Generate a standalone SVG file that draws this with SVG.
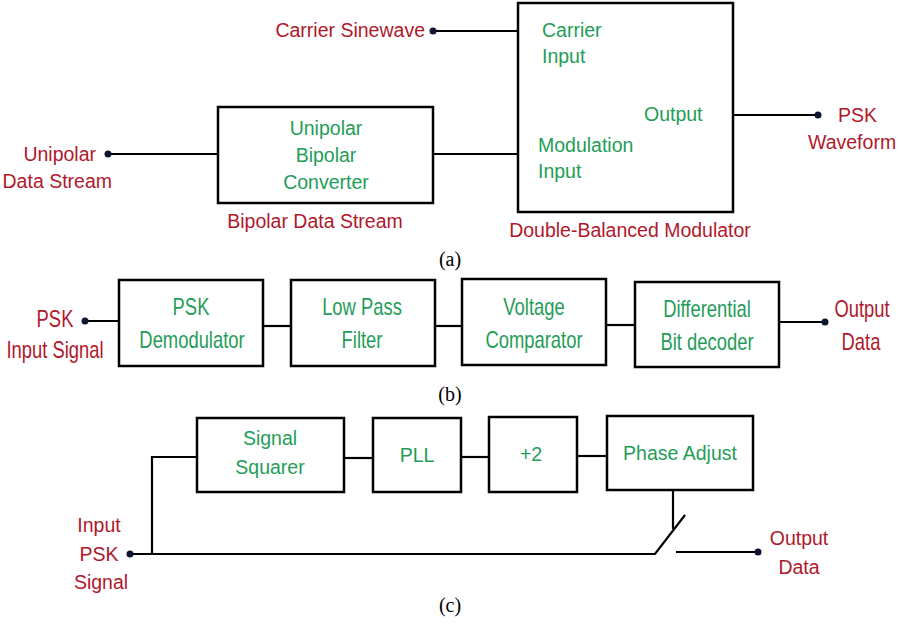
<svg xmlns="http://www.w3.org/2000/svg" width="900" height="632" viewBox="0 0 900 632">
<style>
.box{fill:#fff;stroke:#000;stroke-width:2.5}
.ln{fill:none;stroke:#000;stroke-width:2.2}
.g{fill:#1f9d58;font-family:"Liberation Sans",Arial,sans-serif;font-size:19.5px}
.r{fill:#b0182c;font-family:"Liberation Sans",Arial,sans-serif;font-size:19.5px}
.gb{fill:#1f9d58;font-family:"Liberation Sans",Arial,sans-serif;font-size:23px}
.rb{fill:#b0182c;font-family:"Liberation Sans",Arial,sans-serif;font-size:23px}
.cap{fill:#000;font-family:"Liberation Serif","Times New Roman",serif;font-size:20px;text-anchor:middle}
.m{text-anchor:middle}
.e{text-anchor:end}
.dot{fill:#0d1530}
</style>
<rect width="900" height="632" fill="#fff"/>
<g id="connectors">
<path class="ln" d="M433 31H517"/>
<path class="ln" d="M108 154H218"/>
<path class="ln" d="M433 154H518"/>
<path class="ln" d="M733 115H818"/>
<path class="ln" d="M85 321H119"/>
<path class="ln" d="M263 326H291"/>
<path class="ln" d="M435 326H462"/>
<path class="ln" d="M606 325H635"/>
<path class="ln" d="M779 322H825"/>
<path class="ln" d="M130 554H655L685 515"/>
<path class="ln" d="M152 554V457H197"/>
<path class="ln" d="M344 458H373"/>
<path class="ln" d="M461 457H489"/>
<path class="ln" d="M577 456H607"/>
<path class="ln" d="M673 490V529"/>
<path class="ln" d="M676 552H758"/>
</g>
<g id="carrier-sinewave"><circle class="dot" cx="433" cy="31" r="3.5"/><text class="r e" x="425" y="37">Carrier Sinewave</text></g>
<g id="unipolar-data-stream"><circle class="dot" cx="108" cy="154" r="3.5"/><text class="r e" x="96" y="161">Unipolar</text><text class="r e" x="112" y="188">Data Stream</text></g>
<g id="converter"><rect class="box" x="218" y="107" width="215" height="96"/><text class="g m" x="326" y="135">Unipolar</text><text class="g m" x="326" y="162">Bipolar</text><text class="g m" x="326" y="189">Converter</text><text class="r m" x="315" y="228">Bipolar Data Stream</text></g>
<g id="modulator"><rect class="box" x="518" y="3" width="215" height="209"/><text class="g" x="542" y="37">Carrier</text><text class="g" x="542" y="63">Input</text><text class="g" x="644" y="121">Output</text><text class="g" x="538" y="152">Modulation</text><text class="g" x="538" y="178">Input</text><text class="r m" x="630" y="237">Double-Balanced Modulator</text></g>
<g id="psk-waveform"><circle class="dot" cx="818" cy="115" r="3.5"/><text class="r" x="838" y="122">PSK</text><text class="r" x="808" y="149">Waveform</text></g>
<text class="cap" x="450" y="266">(a)</text>
<g id="psk-input"><circle class="dot" cx="85" cy="321" r="3.5"/><text class="rb m" transform="translate(55 327) scale(0.8 1)">PSK</text><text class="rb m" transform="translate(55 358) scale(0.8 1)">Input Signal</text></g>
<g id="psk-demod"><rect class="box" x="119" y="280" width="144" height="86"/><text class="gb m" transform="translate(191 315) scale(0.8 1)">PSK</text><text class="gb m" transform="translate(192 348) scale(0.8 1)">Demodulator</text></g>
<g id="lpf"><rect class="box" x="291" y="280" width="144" height="86"/><text class="gb m" transform="translate(362 315) scale(0.8 1)">Low Pass</text><text class="gb m" transform="translate(362 348) scale(0.8 1)">Filter</text></g>
<g id="comparator"><rect class="box" x="462" y="279" width="144" height="86"/><text class="gb m" transform="translate(534 315) scale(0.8 1)">Voltage</text><text class="gb m" transform="translate(534 348) scale(0.8 1)">Comparator</text></g>
<g id="decoder"><rect class="box" x="635" y="282" width="144" height="85"/><text class="gb m" transform="translate(707 317) scale(0.8 1)">Differential</text><text class="gb m" transform="translate(707 350) scale(0.8 1)">Bit decoder</text></g>
<g id="output-data-b"><circle class="dot" cx="825" cy="322" r="3.5"/><text class="rb m" transform="translate(862 317) scale(0.8 1)">Output</text><text class="rb m" transform="translate(861 350) scale(0.8 1)">Data</text></g>
<text class="cap" x="450" y="401">(b)</text>
<g id="input-psk-signal"><circle class="dot" cx="130" cy="554" r="3.5"/><text class="r m" x="99" y="532">Input</text><text class="r m" x="99" y="561">PSK</text><text class="r m" x="101" y="589">Signal</text></g>
<g id="squarer"><rect class="box" x="197" y="418" width="147" height="74"/><text class="g m" x="270" y="445">Signal</text><text class="g m" x="270" y="474">Squarer</text></g>
<g id="pll"><rect class="box" x="373" y="418" width="88" height="74"/><text class="g m" x="417" y="462">PLL</text></g>
<g id="div2"><rect class="box" x="489" y="417" width="88" height="75"/><text class="g m" x="531" y="461">+2</text></g>
<g id="phase-adjust"><rect class="box" x="607" y="416" width="146" height="74"/><text class="g m" x="680" y="460">Phase Adjust</text></g>
<g id="output-data-c"><circle class="dot" cx="758" cy="552" r="3.5"/><text class="r m" x="799" y="545">Output</text><text class="r m" x="799" y="574">Data</text></g>
<text class="cap" x="450" y="612">(c)</text>
</svg>
